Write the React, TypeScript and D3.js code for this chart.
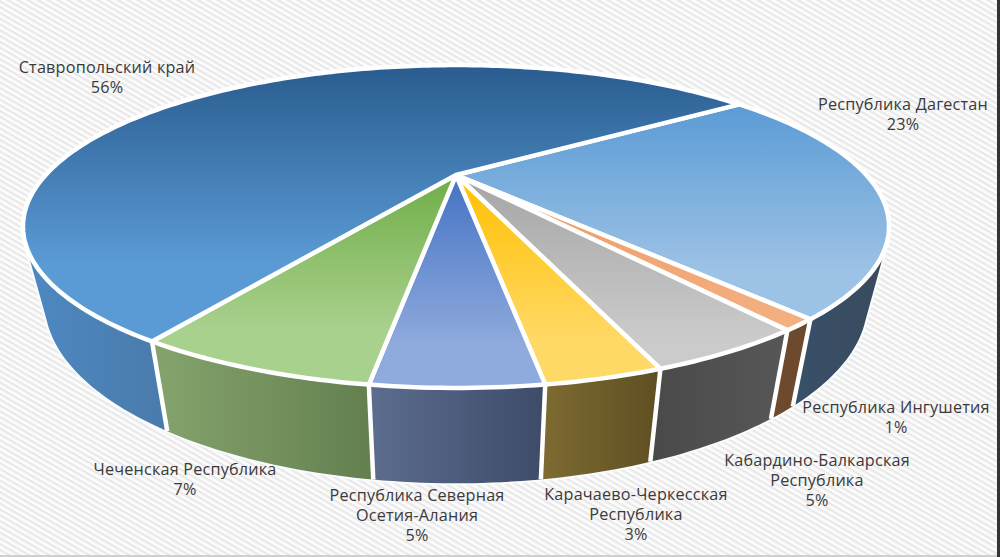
import React from "react";
import * as d3 from "d3";

const regions = [
  "Республика Дагестан",
  "Республика Ингушетия",
  "Кабардино-Балкарская Республика",
  "Карачаево-Черкесская Республика",
  "Республика Северная Осетия-Алания",
  "Чеченская Республика",
  "Ставропольский край",
];
const shares = [23.4, 1.1, 4.6, 3.3, 4.7, 6.8, 56.1];
const labelLines = [
  ["Республика Дагестан"],
  ["Республика Ингушетия"],
  ["Кабардино-Балкарская", "Республика"],
  ["Карачаево-Черкесская", "Республика"],
  ["Республика Северная", "Осетия-Алания"],
  ["Чеченская Республика"],
  ["Ставропольский край"],
];

// layout (not data)
const labelAnchors = [
  [903, 105], [896, 408], [817, 461], [636, 495], [417, 496], [185, 470], [107, 68],
];
const topStops = [
  ["#5b9bd5", "#9cc2e5", 105, 270],
  ["#ed9a66", "#f4b183", 175, 330],
  ["#a5a5a5", "#cbcbcb", 175, 340],
  ["#ffc000", "#ffd966", 175, 340],
  ["#4472c4", "#8faadc", 175, 345],
  ["#70ad47", "#a9d18e", 175, 330],
  ["#2a5d90", "#5b9bd5", 68, 265],
];
const wallStops = [
  ["#38506a", "#3a4a5c", 795, 885],
  ["#6d4a2e", "#6d4a2e", 770, 810],
  ["#4a4a4a", "#575757", 655, 785],
  ["#7f6c32", "#5e4e22", 540, 660],
  ["#5c6c8e", "#3e4b69", 373, 545],
  ["#85a36c", "#637f50", 155, 375],
  ["#4d89c2", "#4a7bab", 25, 165],
];

const cx = 456, cy = 175;
const A = 410.4, B = 145, K = -0.319;
const vpx = 458, shrink = 0.05, depth0 = 95, depthSlope = 0.12;

const rim = (a: number): [number, number] => {
  const u = Math.sin(a), v = -Math.cos(a);
  const w = 1 + K * v;
  return [cx + (A * u) / w, cy + (B * v) / w];
};
const drop = ([x, y]: [number, number]): [number, number] => [
  x - (x - vpx) * shrink,
  y + depth0 + depthSlope * (y - 385),
];

const start = (54.8 * Math.PI) / 180;
const arcs = d3
  .pie<number>()
  .sort(null)
  .startAngle(start)
  .endAngle(start + 2 * Math.PI)(shares);

const line = d3.line();
const rimPoints = (a0: number, a1: number) => {
  const n = Math.max(2, Math.ceil(((a1 - a0) * 180) / Math.PI));
  return d3.range(n + 1).map((i) => rim(a0 + ((a1 - a0) * i) / n));
};
const topPath = (a0: number, a1: number) =>
  line([[cx, cy], ...rimPoints(a0, a1)])! + "Z";
// one path per slice: every quad wound the same way so that the fold at the
// silhouette fills solid under the nonzero rule and no seams appear
const wallPath = (a0: number, a1: number) => {
  const pts = rimPoints(a0, a1);
  return d3
    .pairs(pts)
    .map(([p, q]) => {
      const quad: [number, number][] = [p, q, drop(q), drop(p)];
      if (d3.polygonArea(quad) < 0) quad.reverse();
      return line(quad)! + "Z";
    })
    .join("");
};

export default function App() {
  React.useEffect(() => {
    document.body.style.margin = "0";
  }, []);
  return (
    <svg
      width={1000}
      height={557}
      viewBox="0 0 1000 557"
      style={{ position: "absolute", left: 0, top: 0, display: "block" }}
    >
      <defs>
        <pattern
          id="hatch"
          width={6}
          height={5}
          patternUnits="userSpaceOnUse"
          patternTransform="rotate(30)"
        >
          <rect width={6} height={5} fill="#fdfdfd" />
          <rect width={6} height={2.4} fill="#e9e9e9" />
        </pattern>
        {regions.map((_, i) => (
          <linearGradient
            key={"t" + i}
            id={"top" + i}
            gradientUnits="userSpaceOnUse"
            x1={0}
            x2={0}
            y1={topStops[i][2] as number}
            y2={topStops[i][3] as number}
          >
            <stop offset="0" stopColor={topStops[i][0] as string} />
            <stop offset="1" stopColor={topStops[i][1] as string} />
          </linearGradient>
        ))}
        {regions.map((_, i) => (
          <linearGradient
            key={"w" + i}
            id={"wall" + i}
            gradientUnits="userSpaceOnUse"
            y1={0}
            y2={0}
            x1={wallStops[i][2] as number}
            x2={wallStops[i][3] as number}
          >
            <stop offset="0" stopColor={wallStops[i][0] as string} />
            <stop offset="1" stopColor={wallStops[i][1] as string} />
          </linearGradient>
        ))}
      </defs>
      <rect width={1000} height={557} fill="url(#hatch)" />
      <rect x={0} y={555} width={1000} height={2} fill="#d0d0d0" />
      <rect x={997} y={0} width={3} height={557} fill="#333333" />
      {arcs.map((d, i) => (
        <path
          key={"halo" + i}
          d={wallPath(d.startAngle, d.endAngle)}
          fill="#ffffff"
          stroke="#f8fcff"
          strokeWidth={4}
          strokeLinejoin="round"
        />
      ))}
      {arcs.map((d, i) => (
        <path
          key={"wall" + i}
          d={wallPath(d.startAngle, d.endAngle)}
          fill={`url(#wall${i})`}
        />
      ))}
      {arcs.map((d, i) => {
        const p = rim(d.endAngle);
        const q = drop(p);
        return (
          <line
            key={"div" + i}
            x1={p[0]}
            y1={p[1]}
            x2={q[0]}
            y2={q[1]}
            stroke="#ffffff"
            strokeWidth={4.5}
          />
        );
      })}
      {arcs.map((d, i) => (
        <path
          key={"top" + i}
          d={topPath(d.startAngle, d.endAngle)}
          fill={`url(#top${i})`}
          stroke="#ffffff"
          strokeWidth={4.5}
          strokeLinejoin="round"
        />
      ))}
      <g
        fontFamily="'Open Sans', sans-serif"
        fontSize={16.2}
        letterSpacing={0.2}
        fill="#3a3a3a"
        textAnchor="middle"
      >
        {arcs.map((d, i) => {
          const [x, y] = labelAnchors[i];
          const lines = [...labelLines[i], d3.format(".0f")(shares[i]) + "%"];
          return (
            <text key={"lab" + i} x={x} y={y + 5}>
              {lines.map((l, j) => (
                <tspan key={j} x={x} y={y + 5 + j * 20}>
                  {l}
                </tspan>
              ))}
            </text>
          );
        })}
      </g>
    </svg>
  );
}
